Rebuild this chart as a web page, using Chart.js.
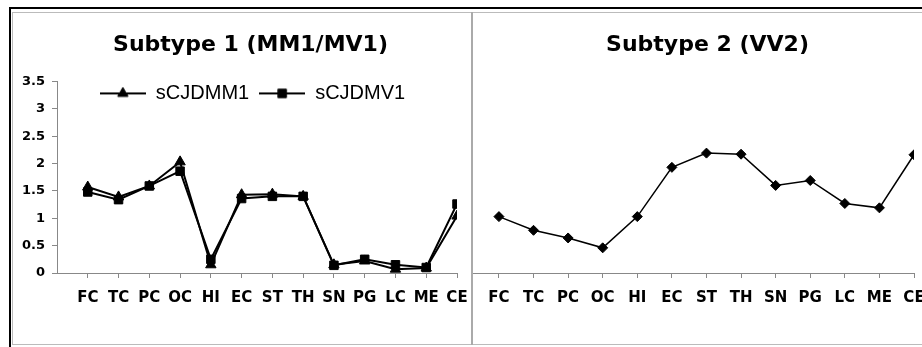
<!DOCTYPE html>
<html>
<head>
<meta charset="utf-8">
<script src="https://cdn.jsdelivr.net/npm/chart.js@4.4.1/dist/chart.umd.min.js"></script>
<style>
body { margin: 0; background: #fff; width: 922px; height: 347px; overflow: hidden; position: relative; }
.line { position: absolute; }
#left { position: absolute; left: 14px; top: 14px; }
#right { position: absolute; left: 473px; top: 14px; }
</style>
</head>
<body>
<div class="line" style="left:9px;top:7px;width:913px;height:2px;background:#000"></div>
<div class="line" style="left:9px;top:7px;width:2px;height:340px;background:#000"></div>
<div class="line" style="left:12px;top:12px;width:910px;height:1px;background:#bbb"></div>
<div class="line" style="left:12px;top:12px;width:1px;height:333px;background:#bbb"></div>
<div class="line" style="left:12px;top:344px;width:910px;height:1px;background:#bbb"></div>
<div class="line" style="left:471px;top:12px;width:2px;height:333px;background:#aaa"></div>
<canvas id="left" width="457" height="329"></canvas>
<canvas id="right" width="449" height="329"></canvas>
<script>
// regions along the x axis
const categories = ['FC', 'TC', 'PC', 'OC', 'HI', 'EC', 'ST', 'TH', 'SN', 'PG', 'LC', 'ME', 'CE'];

// subtype 1
const mm1Values = [1.57, 1.39, 1.59, 2.03, 0.15, 1.43, 1.44, 1.40, 0.15, 0.22, 0.07, 0.09, 1.04];
const mv1Values = [1.48, 1.34, 1.59, 1.86, 0.25, 1.36, 1.40, 1.40, 0.14, 0.25, 0.15, 0.10, 1.26];

// subtype 2
const vv2Values = [1.03, 0.78, 0.64, 0.46, 1.03, 1.93, 2.19, 2.17, 1.60, 1.69, 1.27, 1.19, 2.16];

const yTicks = [0, 0.5, 1, 1.5, 2, 2.5, 3, 3.5];

const boldFont = 'DejaVu Sans';
const axisColor = '#888';

function points(values) {
    return values.map((v, i) => ({ x: i + 1, y: v }));
}

// little line + marker picture for the legend, like the old spreadsheet legend
function legendMark(style, radius) {
    let c = document.createElement('canvas');
    c.width = 46;
    c.height = 14;
    let g = c.getContext('2d');
    g.strokeStyle = '#000';
    g.fillStyle = '#000';
    g.lineWidth = 2;
    g.beginPath();
    g.moveTo(0, 7);
    g.lineTo(46, 7);
    g.stroke();
    g.lineWidth = 1;
    Chart.helpers.drawPoint(g, { pointStyle: style, radius: radius, borderWidth: 1, rotation: 0 }, 23, 7);
    return c;
}

function xScale(min) {
    return {
        type: 'linear',
        min: min,
        max: categories.length,
        afterBuildTicks: s => { s.ticks = categories.map((c, i) => ({ value: i + 1 })); },
        afterFit: s => { s.height = 70; s.paddingLeft = 0; s.paddingRight = 0; },
        ticks: {
            autoSkip: false,
            maxRotation: 0,
            padding: 11,
            color: '#000',
            font: { family: boldFont, weight: 'bold', size: 15 },
            callback: v => categories[v - 1] || ''
        },
        grid: { drawOnChartArea: false, tickLength: 5, color: axisColor },
        border: { color: axisColor, width: 1 }
    };
}

function titleOpts(text, bottom) {
    return {
        display: true,
        text: text,
        color: '#000',
        font: { family: boldFont, size: 22, weight: 'bold' },
        padding: { top: 18, bottom: bottom }
    };
}

// the legend sits inside the plot area in the original, so move it down after layout
function shiftBoxes(titleDx, legendDx, legendDy) {
    return {
        id: 'shiftBoxes',
        afterLayout(chart) {
            let t = chart.titleBlock;
            if (t) { t.left += titleDx; t.right += titleDx; }
            let l = chart.legend;
            if (l && l.options.display) {
                l.left += legendDx; l.right += legendDx;
                l.top += legendDy; l.bottom += legendDy + 20;
            }
        }
    };
}

Chart.defaults.animation = false;
Chart.defaults.events = [];

const legendMarks = [legendMark('triangle', 6), legendMark('rect', 6)];

new Chart(document.getElementById('left').getContext('2d'), {
    type: 'line',
    data: {
        datasets: [
            {
                label: 'sCJDMM1',
                data: points(mm1Values),
                borderColor: '#000',
                backgroundColor: '#000',
                borderWidth: 2,
                pointStyle: 'triangle',
                pointRadius: 6,
                pointBorderWidth: 1
            },
            {
                label: 'sCJDMV1',
                data: points(mv1Values),
                borderColor: '#000',
                backgroundColor: '#000',
                borderWidth: 2,
                pointStyle: 'rect',
                pointRadius: 6,
                pointBorderWidth: 1
            }
        ]
    },
    options: {
        responsive: false,
        layout: { autoPadding: false, padding: { left: 0, right: 14, top: 0, bottom: 0 } },
        scales: {
            x: xScale(0),
            y: {
                min: 0,
                max: 3.5,
                afterBuildTicks: s => { s.ticks = yTicks.map(v => ({ value: v })); },
                afterFit: s => { s.width = 43; },
                ticks: {
                    padding: 7,
                    color: '#000',
                    font: { family: boldFont, weight: 'bold', size: 13 },
                    callback: v => String(v)
                },
                grid: { drawOnChartArea: false, tickLength: 5, color: axisColor },
                border: { color: axisColor, width: 1 }
            }
        },
        plugins: {
            title: titleOpts('Subtype 1 (MM1/MV1)', 0),
            tooltip: { enabled: false },
            legend: {
                display: true,
                position: 'top',
                maxHeight: 23,
                labels: {
                    usePointStyle: true,
                    pointStyleWidth: 46,
                    padding: 10,
                    color: '#000',
                    font: { family: 'Liberation Sans', size: 20 },
                    generateLabels: chart => Chart.defaults.plugins.legend.labels.generateLabels(chart)
                        .map((item, i) => Object.assign(item, { pointStyle: legendMarks[i] }))
                }
            }
        }
    },
    plugins: [shiftBoxes(15, 17, 15)]
});

new Chart(document.getElementById('right').getContext('2d'), {
    type: 'line',
    data: {
        datasets: [
            {
                label: 'sCJDVV2',
                data: points(vv2Values),
                borderColor: '#000',
                backgroundColor: '#000',
                borderWidth: 1.5,
                pointStyle: 'rectRot',
                pointRadius: 5,
                pointBorderWidth: 1
            }
        ]
    },
    options: {
        responsive: false,
        layout: { autoPadding: false, padding: { left: 0, right: 8, top: 0, bottom: 0 } },
        scales: {
            x: xScale(0.25),
            y: { display: false, min: 0, max: 3.5 }
        },
        plugins: {
            title: titleOpts('Subtype 2 (VV2)', 23),
            tooltip: { enabled: false },
            legend: { display: false }
        }
    },
    plugins: [shiftBoxes(14, 0, 0)]
});
</script>
</body>
</html>
